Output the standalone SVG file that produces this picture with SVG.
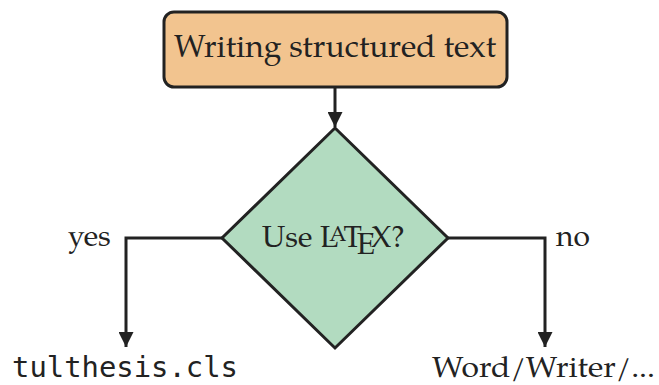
<svg xmlns="http://www.w3.org/2000/svg" width="659" height="385" viewBox="0 0 659 385">
<defs>
<style>
.serif{font-family:"TeX Gyre Pagella","Palatino Linotype","DejaVu Serif","Liberation Serif",serif;fill:#222;}
.mono{font-family:"DejaVu Sans Mono","Liberation Mono",monospace;fill:#222;}
.line{fill:none;stroke:#222;stroke-width:3;}
</style>
<marker id="arr" viewBox="0 0 10 10" refX="10" refY="5" markerWidth="5" markerHeight="5" markerUnits="strokeWidth" orient="auto">
<path d="M0,0 L10,5 L0,10 z" fill="#222"/>
</marker>
</defs>
<g id="start">
<rect x="164" y="12" width="343" height="75" rx="10" fill="#F2C48F" stroke="#222" stroke-width="3"/>
<text class="serif" x="335" y="57" font-size="31" text-anchor="middle" textLength="322" lengthAdjust="spacingAndGlyphs">Writing structured text</text>
</g>
<g id="decision">
<polygon points="335,128 448,238 335,348 222,238" fill="#B2DBC0" stroke="#222" stroke-width="3" stroke-linejoin="miter"/>
<text class="serif" x="262" y="247" font-size="30">Use L<tspan font-size="22" dx="-9" dy="-6">A</tspan><tspan dx="-3" dy="6">T</tspan><tspan dx="-5" dy="7">E</tspan><tspan dx="-4" dy="-7">X?</tspan></text>
</g>
<g id="yes-target">
<text class="mono" x="12" y="377" font-size="28" textLength="226" lengthAdjust="spacingAndGlyphs">tulthesis.cls</text>
</g>
<g id="no-target">
<text class="serif" x="432" y="377" font-size="29" textLength="223" lengthAdjust="spacingAndGlyphs">Word/Writer/...</text>
</g>
<g id="connectors">
<path class="line" d="M335,87 V127" marker-end="url(#arr)"/>
<path class="line" d="M222,238 H126 V347" marker-end="url(#arr)"/>
<path class="line" d="M448,238 H545 V347" marker-end="url(#arr)"/>
<text class="serif" x="68" y="246" font-size="30">yes</text>
<text class="serif" x="556" y="246" font-size="30">no</text>
</g>
</svg>
